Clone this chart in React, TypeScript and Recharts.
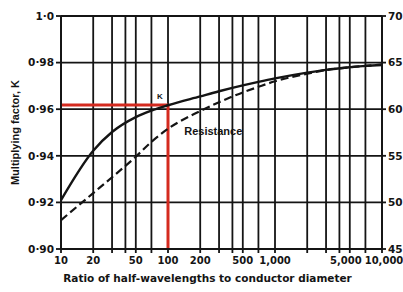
import { ComposedChart, Line, XAxis, YAxis, CartesianGrid, ReferenceLine, ReferenceDot } from 'recharts';

// ratio of half-wavelengths to conductor diameter
const ratios = [10, 20, 30, 50, 70, 100, 200, 300, 500, 700, 1000, 2000, 3000, 5000, 7000, 10000];
// multiplying factor K (left axis)
const kFactor = [0.921, 0.9422, 0.9502, 0.9566, 0.9594, 0.9617, 0.9655, 0.9677, 0.9702, 0.9717, 0.9732, 0.9757, 0.9769, 0.978, 0.9786, 0.979];
// resistance (right axis)
const resistance = [48.1, 51.0, 52.7, 54.9, 56.5, 57.9, 59.8, 60.75, 61.8, 62.4, 63.0, 63.8, 64.2, 64.5, 64.65, 64.8];

const gridTicks = [10, 20, 30, 40, 50, 70, 100, 200, 300, 400, 500, 700, 1000, 2000, 3000, 4000, 5000, 7000, 10000];
const labelledTicks = [10, 20, 50, 100, 200, 500, 1000, 5000, 10000];
const leftTicks = [0.9, 0.92, 0.94, 0.96, 0.98, 1.0];
const rightTicks = [45, 50, 55, 60, 65, 70];

const markerRatio = 100;
const markerK = 0.9618;

const data = ratios.map((x, i) => ({ x, k: kFactor[i], r: resistance[i] }));

const ink = '#141414';
const red = '#d42a1f';
const sans = '"Liberation Sans", Arial, sans-serif';
const wide = '"DejaVu Sans", Verdana, sans-serif';
const tickStyle = { fill: ink, fontSize: 10.5, fontWeight: 700, fontFamily: wide };

const fmtLeft = (v: number) => (v === 1 ? '1·0' : v.toFixed(2).replace('.', '·'));

// the last two labels sit a little apart in the original
const xTickShift: Record<number, number> = { 5000: -4, 10000: 2 };

const XTick = ({ x, y, payload }: any) => {
    const v = payload.value as number;
    if (!labelledTicks.includes(v)) return null;
    return (
        <text
            x={x + (xTickShift[v] ?? 0)}
            y={y}
            dy="0.71em"
            textAnchor="middle"
            fill={ink}
            fontSize={10}
            fontWeight={700}
            fontFamily={wide}
        >
            {v.toLocaleString('en-US')}
        </text>
    );
};

const XTitle = ({ viewBox }: any) => (
    <text
        x={viewBox.x + viewBox.width / 2 - 14}
        y={viewBox.y + 29}
        textAnchor="middle"
        dominantBaseline="central"
        fill={ink}
        fontSize={10.5}
        fontWeight={700}
        fontFamily={wide}
    >
        Ratio of half-wavelengths to conductor diameter
    </text>
);

const YTitle = ({ viewBox }: any) => {
    const cx = 15;
    const cy = viewBox.y + viewBox.height / 2;
    return (
        <text
            x={cx}
            y={cy}
            transform={`rotate(-90 ${cx} ${cy})`}
            textAnchor="middle"
            dominantBaseline="central"
            fill={ink}
            fontSize={11}
            fontWeight={700}
            fontFamily={sans}
        >
            Multiplying factor, K
        </text>
    );
};

const note = (text: string, size: number) => ({ viewBox }: any) => (
    <text
        x={viewBox.x + (viewBox.width || 0) / 2}
        y={viewBox.y + (viewBox.height || 0) / 2}
        textAnchor="middle"
        dominantBaseline="central"
        fill={ink}
        fontSize={size}
        fontWeight={700}
        fontFamily={sans}
    >
        {text}
    </text>
);

export default function App() {
    return (
        <div style={{ position: 'absolute', left: 0, top: 0, width: 403, height: 292, background: '#fff' }}>
            <ComposedChart width={403} height={292} data={data} margin={{ top: 16, right: 0, bottom: 0, left: 0 }}>
                <CartesianGrid yAxisId="left" stroke={ink} strokeWidth={1.8} />
                <XAxis
                    dataKey="x"
                    type="number"
                    scale="log"
                    domain={[10, 10000]}
                    ticks={gridTicks}
                    interval={0}
                    height={43}
                    tick={<XTick />}
                    tickSize={4}
                    tickMargin={4}
                    stroke={ink}
                    strokeWidth={1.8}
                    allowDataOverflow
                    label={{ content: XTitle }}
                />
                <YAxis
                    yAxisId="left"
                    domain={[0.9, 1.0]}
                    ticks={leftTicks}
                    tickFormatter={fmtLeft}
                    width={61}
                    tick={tickStyle}
                    tickSize={5}
                    stroke={ink}
                    strokeWidth={1.8}
                    label={{ content: YTitle }}
                />
                <YAxis
                    yAxisId="right"
                    orientation="right"
                    domain={[45, 70]}
                    ticks={rightTicks}
                    width={21}
                    tick={tickStyle}
                    tickSize={4}
                    stroke={ink}
                    strokeWidth={1.8}
                />
                <ReferenceLine
                    yAxisId="left"
                    segment={[{ x: 10, y: markerK }, { x: markerRatio, y: markerK }]}
                    stroke={red}
                    strokeWidth={3}
                />
                <ReferenceLine
                    yAxisId="left"
                    segment={[{ x: markerRatio, y: 0.9 }, { x: markerRatio, y: markerK }]}
                    stroke={red}
                    strokeWidth={3}
                />
                <Line
                    yAxisId="left"
                    type="monotone"
                    dataKey="k"
                    stroke={ink}
                    strokeWidth={2.4}
                    dot={false}
                    isAnimationActive={false}
                />
                <Line
                    yAxisId="right"
                    type="monotone"
                    dataKey="r"
                    stroke={ink}
                    strokeWidth={2.2}
                    strokeDasharray="8 4"
                    dot={false}
                    isAnimationActive={false}
                />
                <ReferenceDot yAxisId="left" x={84} y={0.9654} r={0} stroke="none" label={{ content: note('K', 8) }} />
                <ReferenceDot yAxisId="left" x={265} y={0.9506} r={0} stroke="none" label={{ content: note('Resistance', 11) }} />
            </ComposedChart>
        </div>
    );
}
